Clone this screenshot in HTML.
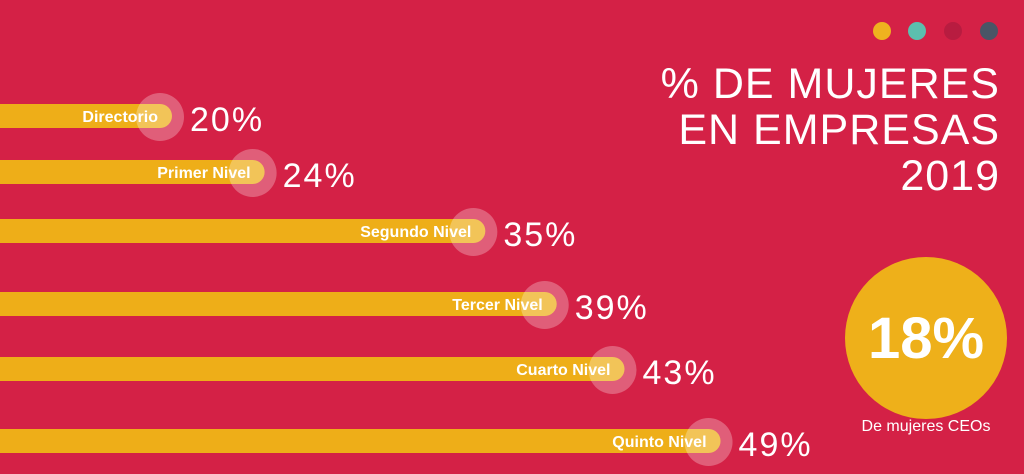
<!DOCTYPE html>
<html><head><meta charset="utf-8">
<style>
html,body{margin:0;padding:0;}
body{width:1024px;height:474px;background:#d42146;overflow:hidden;font-family:"Liberation Sans",sans-serif;}
svg{display:block;}
</style></head>
<body>
<svg id="chart" width="1024" height="474" viewBox="0 0 1024 474">
  <rect width="1024" height="474" fill="#d42146"/>
  <g>
    <circle cx="882" cy="31" r="9" fill="#efb21f"/>
    <circle cx="917" cy="31" r="9" fill="#5cbfae"/>
    <circle cx="953" cy="31" r="9" fill="#b81c40"/>
    <circle cx="989" cy="31" r="9" fill="#4a5566"/>
  </g>
  <g fill="#fff" font-size="43" text-anchor="end" letter-spacing="1">
    <text x="1000" y="98">% DE MUJERES</text>
    <text x="1000" y="144">EN EMPRESAS</text>
    <text x="1000" y="190">2019</text>
  </g>
  <g id="bars"></g>
  <g>
    <circle cx="926" cy="338" r="81" fill="#eeb01a"/>
    <text x="926" y="358" fill="#fff" font-size="58" font-weight="bold" text-anchor="middle">18%</text>
    <text x="926" y="431" fill="#fff" font-size="16" text-anchor="middle">De mujeres CEOs</text>
  </g>
</svg>
<script>
const categories = ["Directorio","Primer Nivel","Segundo Nivel","Tercer Nivel","Cuarto Nivel","Quinto Nivel"];
const values = [20,24,35,39,43,49];
const valueLabels = ["20%","24%","35%","39%","43%","49%"];
const rowCenters = [116,172,231,304,369,441];

function xScale(v){ return 172 + 217*(Math.sqrt(v) - Math.sqrt(20)); }

const NS = "http://www.w3.org/2000/svg";
const g = document.getElementById('bars');
values.forEach(function(v,i){
  const end = xScale(v);
  const cy = rowCenters[i];
  const bar = document.createElementNS(NS,'rect');
  bar.setAttribute('x',-20); bar.setAttribute('y',cy-12);
  bar.setAttribute('width',end+20); bar.setAttribute('height',24);
  bar.setAttribute('rx',12); bar.setAttribute('fill','#eeae18');
  
  
  g.appendChild(bar);
  const c = document.createElementNS(NS,'circle');
  c.setAttribute('cx',end-12); c.setAttribute('cy',cy+1); c.setAttribute('r',24);
  c.setAttribute('fill','rgba(255,255,255,0.28)');
  
  
  g.appendChild(c);
  const lbl = document.createElementNS(NS,'text');
  lbl.setAttribute('x',end-14); lbl.setAttribute('y',cy+6);
  lbl.setAttribute('text-anchor','end'); lbl.setAttribute('fill','#fff');
  lbl.setAttribute('font-size','16'); lbl.setAttribute('font-weight','bold');
  lbl.textContent = categories[i];
  
  
  g.appendChild(lbl);
  const val = document.createElementNS(NS,'text');
  val.setAttribute('x',end+18); val.setAttribute('y',cy+15);
  val.setAttribute('fill','#fff'); val.setAttribute('font-size','34');
  val.setAttribute('letter-spacing','2');
  val.textContent = valueLabels[i];
  
  
  g.appendChild(val);
});
</script>
</body></html>
